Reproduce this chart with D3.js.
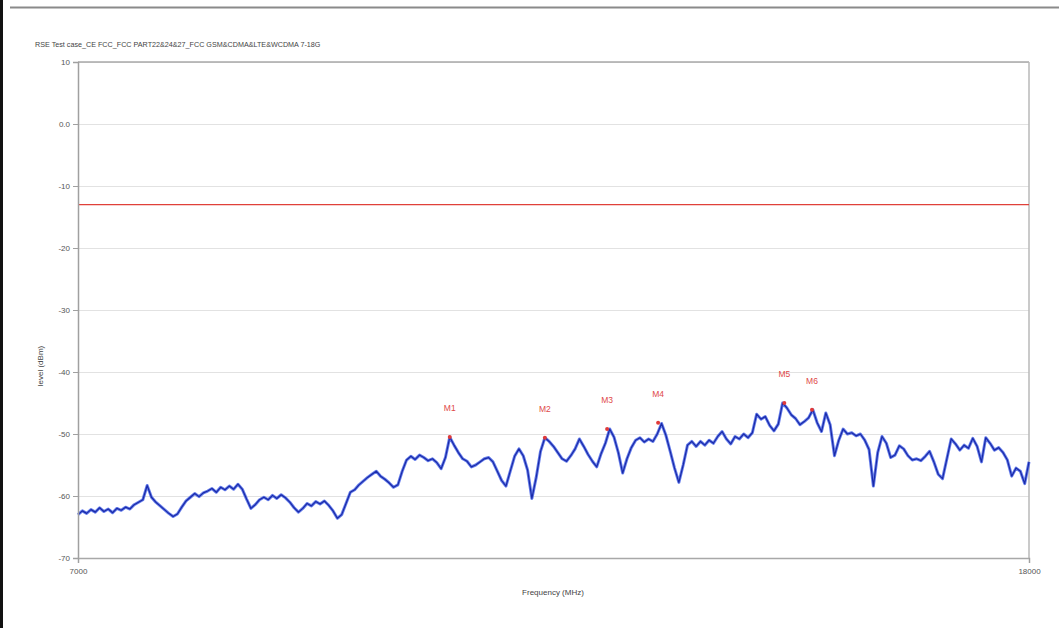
<!DOCTYPE html>
<html>
<head>
<meta charset="utf-8">
<script src="https://cdn.jsdelivr.net/npm/d3@7"></script>
<style>
  body { margin: 0; background: #ffffff; }
  svg { display: block; }
  text { font-family: "Liberation Sans", Arial, sans-serif; }
</style>
</head>
<body>
<svg id="chart" width="1059" height="628"></svg>
<script>
// ---- data ----
const titleText = "RSE Test case_CE FCC_FCC PART22&24&27_FCC GSM&CDMA&LTE&WCDMA 7-18G";
const freqStart = 7000;   // MHz
const freqStep = 50;      // MHz between trace samples
const traceLevels = [
  -63.0,-62.4,-62.8,-62.2,-62.6,-61.9,-62.5,-62.1,-62.7,-62.0,
  -62.3,-61.8,-62.1,-61.4,-61.0,-60.6,-58.3,-60.2,-61.0,-61.6,
  -62.2,-62.8,-63.3,-62.9,-61.8,-60.8,-60.2,-59.6,-60.1,-59.5,
  -59.2,-58.8,-59.4,-58.6,-59.0,-58.4,-58.9,-58.1,-58.9,-60.5,
  -62.0,-61.4,-60.6,-60.2,-60.6,-59.9,-60.4,-59.8,-60.3,-61.0,
  -61.9,-62.6,-62.0,-61.2,-61.6,-60.9,-61.3,-60.8,-61.5,-62.4,
  -63.6,-63.0,-61.2,-59.4,-59.0,-58.2,-57.6,-57.0,-56.5,-56.0,
  -56.8,-57.3,-57.9,-58.6,-58.2,-56.0,-54.2,-53.6,-54.1,-53.4,
  -53.8,-54.3,-54.0,-54.6,-55.6,-53.8,-50.5,-51.8,-53.0,-54.0,
  -54.4,-55.3,-55.0,-54.5,-54.0,-53.8,-54.5,-56.0,-57.5,-58.4,
  -56.0,-53.6,-52.4,-53.5,-55.8,-60.4,-57.0,-52.8,-50.6,-51.2,
  -52.0,-53.0,-54.0,-54.4,-53.5,-52.4,-50.8,-52.0,-53.3,-54.4,
  -55.3,-53.2,-51.5,-49.2,-50.5,-53.0,-56.3,-54.0,-52.2,-51.0,
  -50.6,-51.3,-50.8,-51.2,-50.0,-48.3,-50.2,-52.8,-55.5,-57.8,
  -55.0,-51.8,-51.2,-52.0,-51.2,-51.8,-51.0,-51.5,-50.4,-49.6,
  -50.8,-51.6,-50.4,-50.8,-50.0,-50.6,-49.8,-46.8,-47.6,-47.2,
  -48.6,-49.5,-48.4,-45.0,-45.8,-46.9,-47.5,-48.5,-48.0,-47.4,
  -46.1,-48.2,-49.6,-46.6,-48.5,-53.5,-51.0,-49.2,-50.0,-49.8,
  -50.3,-50.0,-51.0,-52.5,-58.4,-53.0,-50.4,-51.5,-53.8,-53.4,
  -51.9,-52.4,-53.5,-54.2,-54.0,-54.3,-53.6,-52.8,-54.5,-56.5,
  -57.2,-54.0,-50.8,-51.6,-52.6,-51.8,-52.3,-50.7,-52.0,-54.5,
  -50.6,-51.5,-52.6,-52.2,-53.0,-54.2,-56.8,-55.5,-56.0,-58.0,
  -54.5
];
const limitLevel = -13;
const markerNames = ["M1","M2","M3","M4","M5","M6"];
const markerFreqs = [11300, 12400, 13120, 13710, 15170, 15490];
const markerLevels = [-50.5, -50.6, -49.2, -48.2, -45.0, -46.1];
const yTickValues = [10, 0, -10, -20, -30, -40, -50, -60, -70];
const yTickLabels = ["10", "0.0", "-10", "-20", "-30", "-40", "-50", "-60", "-70"];
const xTickValues = [7000, 18000];
const xTickLabels = ["7000", "18000"];
const xTitle = "Frequency (MHz)";
const yTitle = "level (dBm)";

// ---- layout ----
const svg = d3.select("#chart");
const pLeft = 78, pRight = 1029, pTop = 62, pBottom = 558;
const x = d3.scaleLinear().domain([7000, 18000]).range([pLeft, pRight]);
const y = d3.scaleLinear().domain([-70, 10]).range([pBottom, pTop]);

// page frame
svg.append("rect").attr("x", 0).attr("y", 0).attr("width", 3).attr("height", 628).attr("fill", "#111");
svg.append("line").attr("x1", 10).attr("x2", 1059).attr("y1", 7.5).attr("y2", 7.5)
  .attr("stroke", "#8a8a8a").attr("stroke-width", 2);

// title
svg.append("text").attr("x", 35).attr("y", 47).attr("font-size", 7.2).attr("fill", "#444")
  .text(titleText);

// gridlines
svg.append("g").attr("transform", `translate(${pLeft},0)`)
  .call(d3.axisLeft(y).tickValues(yTickValues).tickSize(-(pRight - pLeft)).tickFormat(""))
  .call(g => g.select(".domain").remove())
  .call(g => g.selectAll("line").attr("stroke", "#e2e2e2").attr("stroke-width", 1));

// plot frame (top, right)
svg.append("line").attr("x1", pLeft).attr("x2", pRight).attr("y1", pTop).attr("y2", pTop)
  .attr("stroke", "#a8a8a8").attr("stroke-width", 1.5);
svg.append("line").attr("x1", pRight).attr("x2", pRight).attr("y1", pTop).attr("y2", pBottom)
  .attr("stroke", "#b8b8b8").attr("stroke-width", 1.5);

// limit line
svg.append("line").attr("x1", pLeft).attr("x2", pRight)
  .attr("y1", y(limitLevel)).attr("y2", y(limitLevel))
  .attr("stroke", "#e0403a").attr("stroke-width", 1.2);

// trace
const traceData = traceLevels.map((v, i) => [freqStart + i * freqStep, v]);
const line = d3.line().x(d => x(d[0])).y(d => y(d[1]));
svg.append("path").datum(traceData).attr("d", line)
  .attr("fill", "none").attr("stroke", "#4a66e8").attr("stroke-width", 3.0)
  .attr("stroke-linejoin", "round").attr("opacity", 0.85);
svg.append("path").datum(traceData).attr("d", line)
  .attr("fill", "none").attr("stroke", "#1a2aa8").attr("stroke-width", 1.2)
  .attr("stroke-linejoin", "round");

// markers
const markers = markerNames.map((n, i) => ({ n, f: markerFreqs[i], v: markerLevels[i] }));
svg.append("g").selectAll("circle").data(markers).join("circle")
  .attr("cx", d => x(d.f)).attr("cy", d => y(d.v)).attr("r", 2)
  .attr("fill", "#e03a3a");
svg.append("g").selectAll("text").data(markers).join("text")
  .attr("x", d => x(d.f)).attr("y", d => y(d.v) - 26)
  .attr("text-anchor", "middle").attr("font-size", 8.5).attr("fill", "#e04848")
  .text(d => d.n);

// y axis
const yAxis = svg.append("g").attr("transform", `translate(${pLeft},0)`)
  .call(d3.axisLeft(y).tickValues(yTickValues).tickSize(5).tickPadding(3)
    .tickFormat((d, i) => yTickLabels[i]));
yAxis.select(".domain").attr("stroke", "#a0a0a0").attr("stroke-width", 1.5);
yAxis.selectAll(".tick line").attr("stroke", "#a0a0a0");
yAxis.selectAll(".tick text").attr("fill", "#555").attr("font-size", 8)
  .attr("font-family", "Liberation Sans, Arial, sans-serif");

// x axis
const xAxis = svg.append("g").attr("transform", `translate(0,${pBottom})`)
  .call(d3.axisBottom(x).tickValues(xTickValues).tickSize(5).tickPadding(5)
    .tickFormat((d, i) => xTickLabels[i]));
xAxis.select(".domain").attr("stroke", "#a8a8a8").attr("stroke-width", 1.5);
xAxis.selectAll(".tick line").attr("stroke", "#a0a0a0");
xAxis.selectAll(".tick text").attr("fill", "#555").attr("font-size", 8)
  .attr("font-family", "Liberation Sans, Arial, sans-serif");

// axis titles
svg.append("text").attr("x", 553).attr("y", 595).attr("text-anchor", "middle")
  .attr("font-size", 8).attr("fill", "#444").text(xTitle);
svg.append("text").attr("transform", "translate(43,366) rotate(-90)")
  .attr("text-anchor", "middle").attr("font-size", 8).attr("fill", "#444").text(yTitle);
</script>
</body>
</html>
